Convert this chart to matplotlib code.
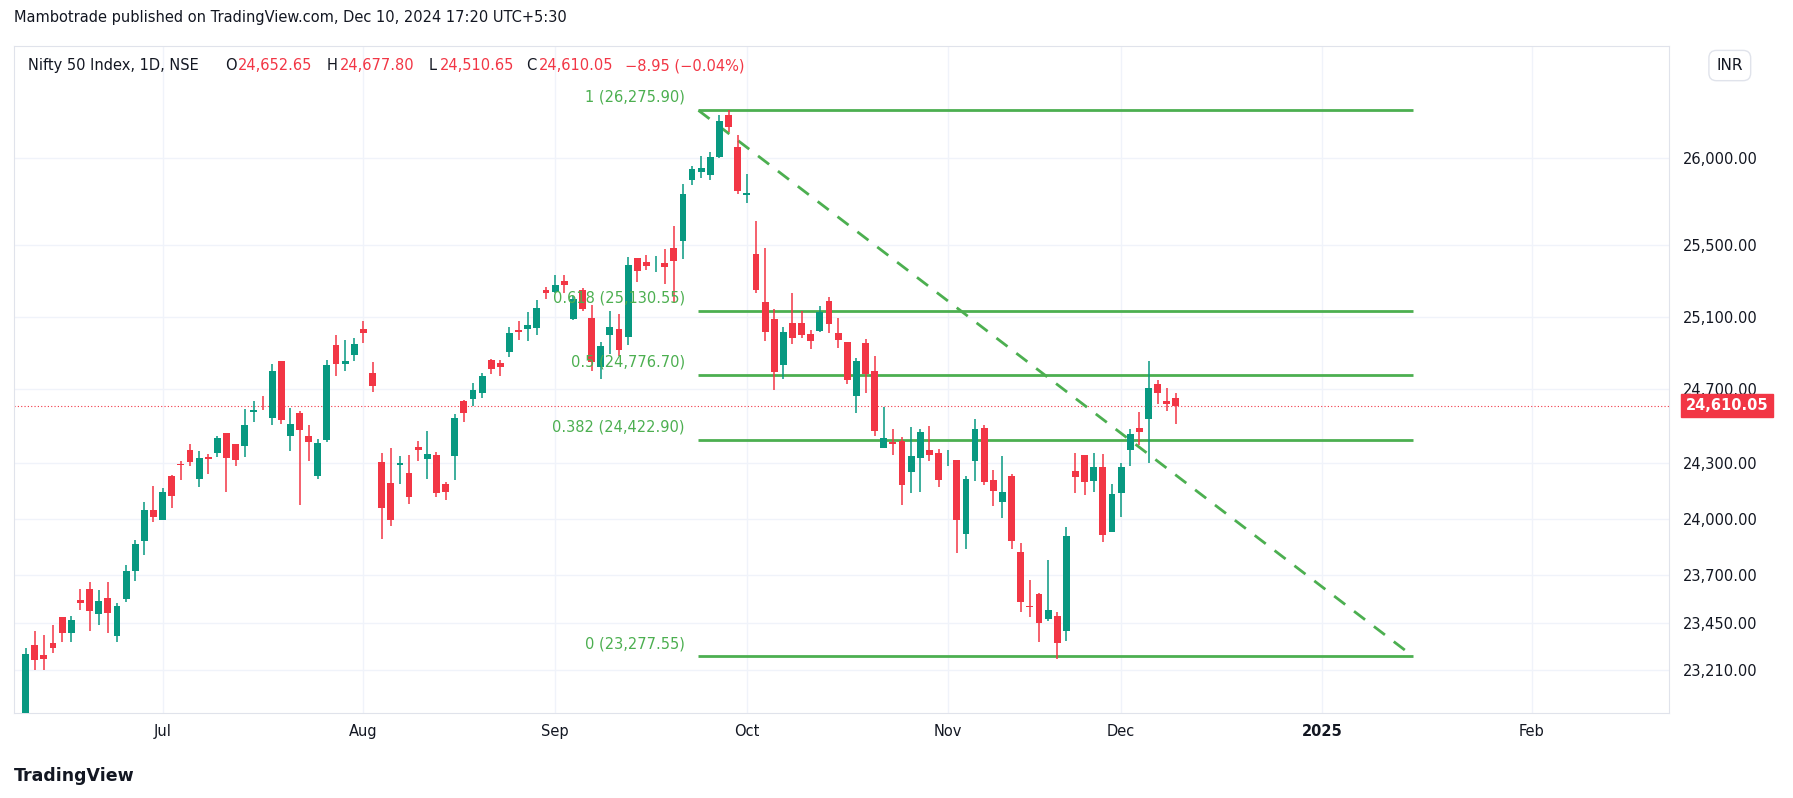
import matplotlib.pyplot as plt
from matplotlib.ticker import FixedLocator, NullLocator
import numpy as np

# Nifty 50 daily candles, 7 Jun 2024 .. 10 Dec 2024 (trading days only)
dates = ["Jun7","Jun10","Jun11","Jun12","Jun13","Jun14","Jun18","Jun19","Jun20","Jun21","Jun24","Jun25","Jun26","Jun27","Jun28",
         "Jul1","Jul2","Jul3","Jul4","Jul5","Jul8","Jul9","Jul10","Jul11","Jul12","Jul15","Jul16","Jul18","Jul19","Jul22","Jul23","Jul24","Jul25","Jul26","Jul29","Jul30","Jul31",
         "Aug1","Aug2","Aug5","Aug6","Aug7","Aug8","Aug9","Aug12","Aug13","Aug14","Aug16","Aug19","Aug20","Aug21","Aug22","Aug23","Aug26","Aug27","Aug28","Aug29","Aug30",
         "Sep2","Sep3","Sep4","Sep5","Sep6","Sep9","Sep10","Sep11","Sep12","Sep13","Sep16","Sep17","Sep18","Sep19","Sep20","Sep23","Sep24","Sep25","Sep26","Sep27","Sep30",
         "Oct1","Oct3","Oct4","Oct7","Oct8","Oct9","Oct10","Oct11","Oct14","Oct15","Oct16","Oct17","Oct18","Oct21","Oct22","Oct23","Oct24","Oct25","Oct28","Oct29","Oct30","Oct31",
         "Nov1","Nov4","Nov5","Nov6","Nov7","Nov8","Nov11","Nov12","Nov13","Nov14","Nov18","Nov19","Nov21","Nov22","Nov25","Nov26","Nov27","Nov28","Nov29",
         "Dec2","Dec3","Dec4","Dec5","Dec6","Dec9","Dec10"]
opens = [22821,23338,23283,23345,23480,23400,23573,23629,23499,23580,23382,23578,23723,23881,24045,
         23992,24229,24291,24369,24213,24329,24351,24459,24399,24388,24573,24615,24544,24853,24445,24568,24444,24231,24423,24943,24839,24886,
         25030,24790,24303,24189,24289,24247,24386,24320,24342,24184,24335,24636,24648,24680,24863,24845,24906,25024,25030,25035,25249,
         25239,25300,25089,25250,25093,24823,24999,25034,24986,25430,25406,25416,25402,25488,25525,25873,25922,25900,26005,26248,26061,
         25788,25453,25181,25085,24832,25066,25067,25003,25023,25186,25008,24960,24665,24956,24798,24379,24412,24418,24252,24328,24371,24350,
         24302,24316,23917,24308,24489,24208,24087,24226,23822,23542,23605,23473,23488,23411,24254,24343,24204,24275,23927,
         24140,24367,24489,24539,24730,24633,24653]
highs = [23320,23412,23389,23441,23481,23490,23630,23664,23624,23667,23558,23754,23889,24087,24174,
         24164,24236,24309,24401,24363,24345,24443,24461,24403,24592,24636,24661,24837,24855,24595,24582,24504,24426,24862,24999,24971,24984,
         25078,24851,24350,24382,24338,24340,24419,24473,24359,24196,24563,24638,24734,24787,24867,24858,25043,25074,25129,25192,25268,
         25334,25333,25216,25261,25168,24957,25130,25113,25433,25430,25445,25441,25482,25611,25849,25956,26011,26032,26250,26277,26134,
         25907,25639,25485,25144,25044,25234,25134,25028,25159,25213,25093,24962,24869,24979,24882,24604,24480,24440,24492,24484,24499,24372,
         24368,24317,24230,24537,24503,24262,24336,24242,23873,23675,23606,23781,23507,23956,24351,24343,24354,24345,24188,
         24301,24481,24574,24857,24751,24705,24678]
lows = [22789,23207,23206,23295,23354,23354,23520,23412,23442,23398,23350,23562,23673,23806,23985,
        23992,24056,24207,24281,24168,24240,24331,24141,24285,24332,24522,24588,24504,24508,24362,24075,24308,24210,24410,24774,24799,24856,
        24956,24686,23893,23960,24184,24079,24311,24212,24116,24099,24205,24522,24607,24654,24784,24771,24875,24973,24964,24998,25199,
        25235,25235,25083,25130,24802,24754,24896,24885,24941,25292,25361,25352,25285,25177,25426,25847,25886,25871,25998,26151,25794,
        25739,25230,24967,24695,24756,24947,24980,24920,25017,25008,24929,24730,24567,24679,24446,24378,24341,24074,24135,24141,24307,24172,
        24280,23816,23842,24204,24179,24067,24004,23839,23509,23484,23350,23464,23263,23359,24135,24126,24145,23874,23927,
        24008,24280,24395,24296,24620,24580,24511]
closes = [23290,23259,23264,23322,23398,23465,23557,23516,23567,23501,23538,23721,23868,24044,24010,
          24141,24123,24286,24302,24323,24320,24433,24324,24315,24502,24586,24613,24800,24530,24509,24479,24413,24406,24834,24836,24857,24951,
          25010,24718,24055,23992,24297,24117,24367,24347,24139,24143,24541,24572,24698,24770,24811,24823,25010,25017,25052,25151,25235,
          25279,25279,25198,25145,24852,24936,25041,24918,25389,25356,25383,25418,25377,25415,25791,25939,25940,26004,26216,26179,25811,
          25797,25250,25015,24796,25013,24982,24998,24964,25128,25057,24971,24750,24854,24781,24472,24435,24399,24181,24339,24467,24341,24205,
          24304,23995,24213,24484,24199,24148,24141,23883,23559,23532,23453,23518,23349,23907,24221,24194,24275,23914,24131,
          24276,24457,24467,24708,24677,24619,24610]

fib_ratios = ["1", "0.618", "0.5", "0.382", "0"]
fib_prices = [26275.90, 25130.55, 24776.70, 24422.90, 23277.55]
price_ticks = [26000, 25500, 25100, 24700, 24300, 24000, 23700, 23450, 23210]
month_labels = ["Jul", "Aug", "Sep", "Oct", "Nov", "Dec", "2025", "Feb"]
month_index = [15, 37, 58, 79, 101, 120, 142, 165]
last_close = 24610.05

GREEN = "#089981"
RED = "#F23645"
FIB = "#4CAF50"

W, H = 1560, 694
fig = plt.figure(figsize=(17.93, 7.98), dpi=100)
ax = fig.add_axes([12 / W, 1 - 620 / H, (1452 - 12) / W, 580 / H])
ax.set_yscale("log")

x = np.arange(len(closes))
for i in x:
    o, h, l, c = opens[i], highs[i], lows[i], closes[i]
    col = GREEN if c >= o else RED
    ax.vlines(i, l, h, color=col, lw=1.1, zorder=3)
    ax.bar(i, abs(c - o) if abs(c - o) > 3 else 3, bottom=min(o, c), width=0.75, color=col, zorder=4)

x0, x1 = 73.7, 152
for r, p in zip(fib_ratios, fib_prices):
    ax.hlines(p, x0, x1, color=FIB, lw=2, zorder=2)
    ax.text(x0 - 1.5, p * 1.0012, f"{r} ({p:,.2f})", color=FIB, fontsize=10.5,
            ha="right", va="bottom", zorder=5)
ax.plot([x0, x1], [fib_prices[0], fib_prices[-1]], color=FIB, lw=2, ls=(0, (5, 4)), zorder=2)

ax.axhline(last_close, color=RED, lw=0.8, ls=(0, (1, 2)), zorder=1)

ax.set_xlim(-1.3, 180.0)
ax.set_ylim(22988, 26654)
ax.yaxis.set_major_locator(FixedLocator(price_ticks))
ax.yaxis.set_minor_locator(NullLocator())
ax.set_yticklabels([f"{v:,.2f}" for v in price_ticks])
ax.yaxis.tick_right()
ax.tick_params(axis="y", length=0, pad=10, labelsize=10.5, labelcolor="#131722")
ax.set_xticks(month_index)
ax.set_xticklabels(month_labels)
ax.tick_params(axis="x", length=0, pad=8, labelsize=10.5, labelcolor="#131722")
ax.get_xticklabels()[6].set_fontweight("bold")
ax.grid(True, color="#f0f3fa", lw=1)
ax.set_axisbelow(True)
for s in ax.spines.values():
    s.set_color("#e0e3eb")

# last price label
ax.annotate(f"{last_close:,.2f}", xy=(1.0, last_close), xycoords=("axes fraction", "data"),
            xytext=(12, 0), textcoords="offset points", va="center", ha="left",
            fontsize=10.5, color="white", fontweight="bold",
            bbox=dict(boxstyle="square,pad=0.3", fc=RED, ec=RED))

fig.text(12 / W, 1 - 15 / H, "Mambotrade published on TradingView.com, Dec 10, 2024 17:20 UTC+5:30",
         fontsize=10.5, color="#131722", va="center")
fig.text(12 / W, 1 - 675 / H, "TradingView", fontsize=12.5, color="#131722",
         fontweight="bold", va="center")

ly = 1 - 57 / H
pieces = [("Nifty 50 Index, 1D, NSE", "#131722", 24), ("O", "#131722", 196), ("24,652.65", RED, 207),
          ("H", "#131722", 284), ("24,677.80", RED, 296), ("L", "#131722", 373), ("24,510.65", RED, 383),
          ("C", "#131722", 458), ("24,610.05", RED, 469), ("\u22128.95 (\u22120.04%)", RED, 544)]
for t, c, px in pieces:
    fig.text(px / W, ly, t, color=c, fontsize=10.5, va="center")

fig.text(1505 / W, 1 - 57 / H, "INR", fontsize=11, color="#131722", va="center", ha="center",
         bbox=dict(boxstyle="round,pad=0.5", fc="white", ec="#e0e3eb"))

fig.savefig("out.png", dpi=100)
